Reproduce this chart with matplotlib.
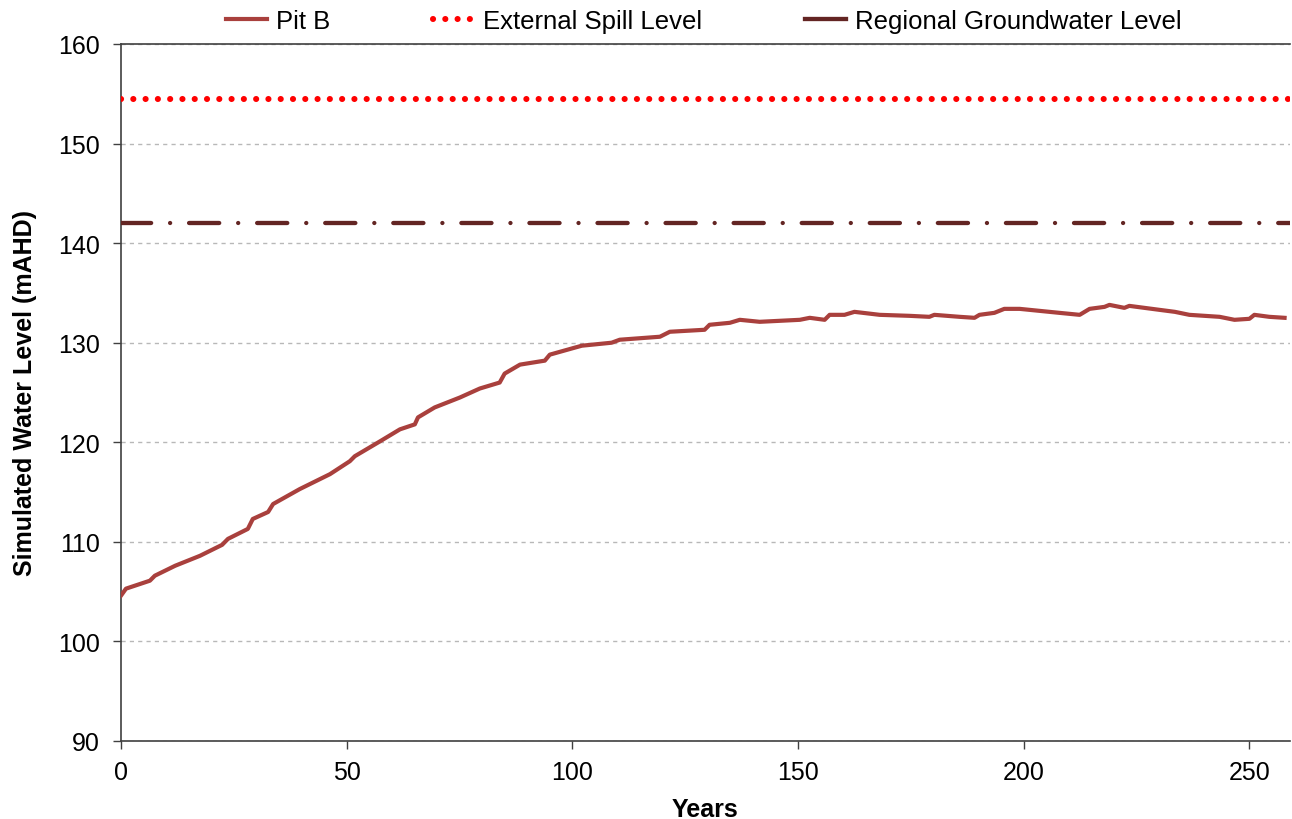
import matplotlib
matplotlib.use("Agg")
import matplotlib.pyplot as plt
from matplotlib.lines import Line2D

plt.rcParams['font.family'] = ['Liberation Sans', 'DejaVu Sans']

# Pit B simulated water level (years, mAHD)
years = [0, 1.1, 6.4, 7.5, 12, 17.5, 22.4, 23.7, 28.1, 29.2, 32.6, 33.7, 39.6, 46.3,
         50.7, 51.8, 57.4, 61.8, 65.1, 65.8, 69.5, 75.1, 79.5, 83.9, 85.0, 88.4,
         93.9, 95.0, 100.5, 102.1, 108.7, 110.5, 119.4, 121.6, 129.3, 130.4, 134.9,
         137.1, 141.5, 150.4, 152.6, 155.9, 157.0, 160.3, 162.5, 168.1, 174.7, 179.1,
         180.2, 185.8, 189.1, 190.2, 193.5, 195.7, 199.1, 203.5, 207.9, 212.4, 214.6,
         217.9, 219.0, 222.3, 223.4, 230.1, 233.5, 236.7, 243.4, 246.7, 250.0, 251.1,
         254.4, 257.8]
pit_b = [104.6, 105.3, 106.1, 106.6, 107.6, 108.6, 109.7, 110.3, 111.3, 112.3, 113.0,
         113.8, 115.3, 116.8, 118.1, 118.6, 120.1, 121.3, 121.8, 122.5, 123.5, 124.5,
         125.4, 126.0, 126.9, 127.8, 128.2, 128.8, 129.5, 129.7, 130.0, 130.3, 130.6,
         131.1, 131.3, 131.8, 132.0, 132.3, 132.1, 132.3, 132.5, 132.3, 132.8, 132.8,
         133.1, 132.8, 132.7, 132.6, 132.8, 132.6, 132.5, 132.8, 133.0, 133.4, 133.4,
         133.2, 133.0, 132.8, 133.4, 133.6, 133.8, 133.5, 133.7, 133.3, 133.1, 132.8,
         132.6, 132.3, 132.4, 132.8, 132.6, 132.5]

spill_level = 154.5
groundwater_level = 142.0
x_extent = [0, 259]

y_ticks = [90, 100, 110, 120, 130, 140, 150, 160]
x_ticks = [0, 50, 100, 150, 200, 250]

pit_col = '#A9403D'
spill_col = '#FF0000'
gw_col = '#632523'
axis_col = '#404040'

fig = plt.figure(figsize=(12.92, 8.2), dpi=100)
ax = fig.add_axes([121/1292, 1 - 742/820, (1290 - 121)/1292, (742 - 45)/820])

ax.plot(years, pit_b, color=pit_col, lw=3.0, zorder=3, solid_joinstyle='round')
ax.plot(x_extent, [spill_level, spill_level], color=spill_col, lw=4.4,
        linestyle=(0, (0.01, 2.0)), dash_capstyle='round', zorder=3)
ax.plot(x_extent, [groundwater_level, groundwater_level], color=gw_col, lw=3.1,
        linestyle=(0, (7.0, 4.4, 0.01, 4.4)), dash_capstyle='round', zorder=3)

ax.set_xlim(x_extent)
ax.set_ylim(90, 160)
ax.set_xticks(x_ticks)
ax.set_yticks(y_ticks)

ax.yaxis.grid(True, color='#B8B8B8', linestyle=(0, (3, 3)), lw=1.0)
ax.set_axisbelow(True)

for side in ['left', 'bottom', 'top']:
    ax.spines[side].set_color(axis_col)
    ax.spines[side].set_linewidth(1.2)
ax.spines['right'].set_visible(False)

ax.tick_params(axis='both', direction='out', length=6, width=1.0, color=axis_col,
               labelsize=18, labelcolor='black')
ax.tick_params(axis='x', pad=8)
ax.tick_params(axis='y', pad=9)

ax.set_xlabel('Years', fontsize=18, fontweight='bold', labelpad=9)
ax.set_ylabel('Simulated Water Level (mAHD)', fontsize=18, fontweight='bold', labelpad=15)

legend_handles = [
    Line2D([], [], color=pit_col, lw=3.0),
    Line2D([], [], color=spill_col, lw=4.4, linestyle=(0, (0.01, 2.0)),
           dash_capstyle='round'),
    Line2D([], [], color=gw_col, lw=3.1),
]
legend_labels = ['Pit B', 'External Spill Level', 'Regional Groundwater Level']
fig.legend(legend_handles, legend_labels, loc='upper center',
           bbox_to_anchor=(0.545, 1.016), ncol=3, frameon=False, fontsize=18.5,
           handlelength=1.6, columnspacing=4.0, handletextpad=0.35)

fig.savefig('out.png', dpi=100)
